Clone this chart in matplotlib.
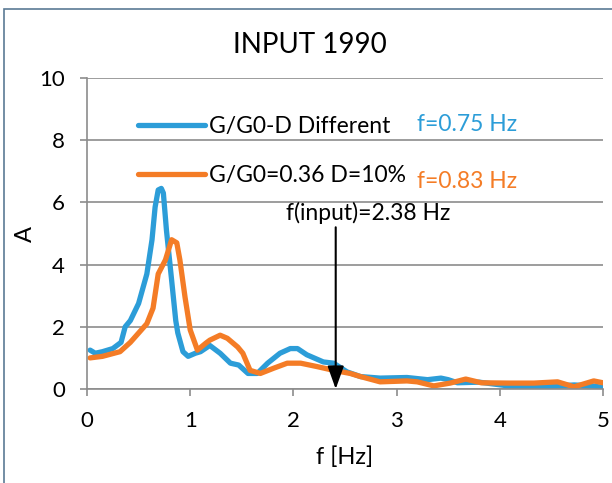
import matplotlib
matplotlib.use("Agg")
import matplotlib.pyplot as plt
from matplotlib.patches import Rectangle

# data
f_blue = [0.03, 0.08, 0.15, 0.25, 0.33, 0.37, 0.42, 0.5, 0.58, 0.63, 0.66, 0.69, 0.72, 0.74,
          0.77, 0.82, 0.86, 0.88, 0.93, 0.98, 1.05, 1.1, 1.19, 1.29, 1.39, 1.47, 1.56, 1.65,
          1.75, 1.87, 1.97, 2.04, 2.13, 2.29, 2.39, 2.52, 2.65, 2.84, 3.1, 3.3, 3.43, 3.5,
          3.59, 3.8, 4.08, 4.4, 4.72, 4.9, 5.0]
a_blue = [1.25, 1.15, 1.2, 1.3, 1.5, 2.0, 2.2, 2.75, 3.7, 4.8, 5.85, 6.4, 6.45, 6.3,
          5.1, 3.5, 2.2, 1.8, 1.2, 1.05, 1.15, 1.2, 1.4, 1.15, 0.83, 0.77, 0.5, 0.5,
          0.83, 1.15, 1.3, 1.3, 1.1, 0.87, 0.83, 0.55, 0.4, 0.35, 0.37, 0.3, 0.35, 0.3,
          0.2, 0.22, 0.1, 0.07, 0.13, 0.1, 0.05]

f_orange = [0.03, 0.15, 0.32, 0.42, 0.5, 0.58, 0.64, 0.69, 0.76, 0.82, 0.87, 0.9, 0.95, 1.0,
            1.07, 1.15, 1.19, 1.29, 1.36, 1.46, 1.51, 1.58, 1.68, 1.81, 1.94, 2.07, 2.23,
            2.39, 2.55, 2.65, 2.84, 3.1, 3.2, 3.36, 3.52, 3.67, 3.82, 4.08, 4.33, 4.56,
            4.72, 4.91, 5.0]
a_orange = [1.0, 1.05, 1.2, 1.5, 1.8, 2.1, 2.6, 3.7, 4.15, 4.8, 4.7, 4.15, 2.95, 1.9,
            1.25, 1.47, 1.57, 1.73, 1.63, 1.35, 1.15, 0.6, 0.5, 0.67, 0.83, 0.83, 0.72,
            0.6, 0.5, 0.4, 0.23, 0.26, 0.23, 0.1, 0.19, 0.32, 0.2, 0.19, 0.19, 0.23,
            0.07, 0.26, 0.2]

labels = ["G/G0-D Different", "G/G0=0.36 D=10%"]
freq_notes = ["f=0.75 Hz", "f=0.83 Hz"]
f_input = 2.41

BLUE = "#2C9DD8"
ORANGE = "#F47C26"
GREY = "#8C8C8C"
FS = 16.5

plt.rcParams["font.family"] = ["Lato", "DejaVu Sans"]

fig = plt.figure(figsize=(6.12, 4.83), dpi=100)
ax = fig.add_axes([87 / 612, 1 - 389 / 483, 516 / 612, 311 / 483])

ax.plot(f_blue, a_blue, color=BLUE, lw=3.8, label=labels[0], solid_capstyle="round")
ax.plot(f_orange, a_orange, color=ORANGE, lw=3.8, label=labels[1], solid_capstyle="round")

ax.set_xlim(0, 5)
ax.set_ylim(0, 10)
ax.set_xticks(range(0, 6))
ax.set_yticks(range(0, 11, 2))
ax.grid(axis="y", color=GREY, lw=1.2)
ax.set_axisbelow(True)
for s in ["top", "right"]:
    ax.spines[s].set_visible(False)
for s in ["left", "bottom"]:
    ax.spines[s].set_color(GREY)
    ax.spines[s].set_linewidth(1.2)
ax.tick_params(colors=GREY, labelcolor="black", labelsize=16, length=5, width=1.2, direction="out")
ax.tick_params(axis="x", pad=11)
ax.tick_params(axis="y", pad=11)

# title is centred on the whole chart area, not on the plot
fig.text(0.507, 1 - 45 / 483, "INPUT 1990", fontsize=20, ha="center", va="center")
ax.set_xlabel("f [Hz]", fontsize=17, labelpad=11)
ax.set_ylabel("A", fontsize=17, labelpad=2)

leg = ax.legend(loc="center left", bbox_to_anchor=(0.099, 0.765), frameon=False, fontsize=FS,
                handlelength=2.9, handletextpad=0.2, labelspacing=1.2, borderpad=0, borderaxespad=0)

ax.text(0.64, 0.852, freq_notes[0], transform=ax.transAxes, color=BLUE, fontsize=FS, va="center")
ax.text(0.64, 0.668, freq_notes[1], transform=ax.transAxes, color=ORANGE, fontsize=FS, va="center")

ax.text(2.72, 5.66, "f(input)=2.38 Hz", fontsize=FS, ha="center", va="center")
ax.annotate("", xy=(f_input, 0.0), xytext=(f_input, 5.2),
            arrowprops=dict(arrowstyle="-|>,head_length=0.7,head_width=0.25",
                            mutation_scale=20, color="black", lw=1.5, shrinkA=0, shrinkB=0))

fig.patches.append(Rectangle((4 / 612, -0.1), 1.2, 1 - 9 / 483 + 0.1, transform=fig.transFigure,
                             fill=False, edgecolor="#5B7A95", lw=1.2))

fig.savefig("out.png", dpi=100)
